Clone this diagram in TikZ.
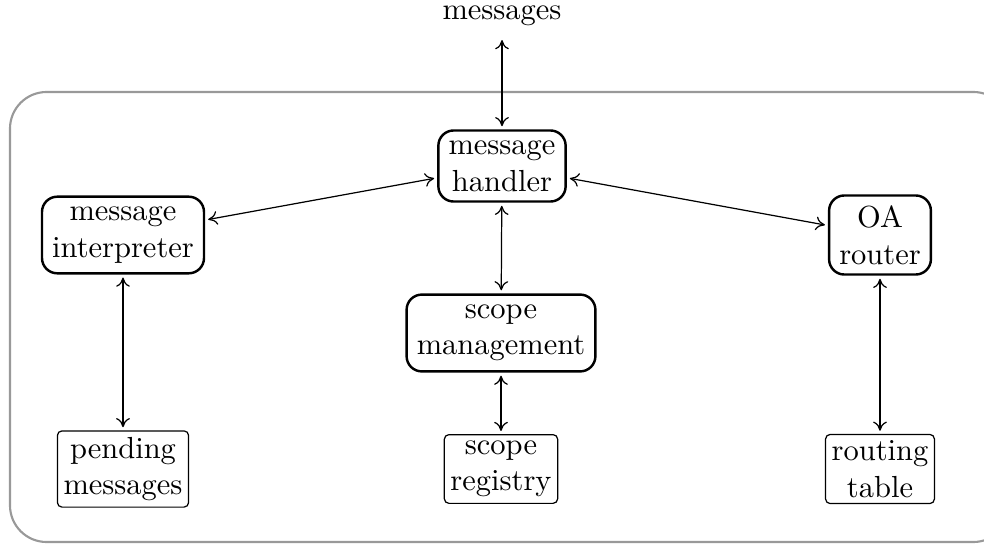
\documentclass[tikz,border=0pt]{standalone}
\usetikzlibrary{arrows.meta}
\begin{document}
\begin{tikzpicture}[x=0.328pt, y=-0.328pt,
  component/.style={draw, thick, rounded corners=5pt, align=center,
    inner sep=3.33pt},
  store/.style={draw, rounded corners=1.5pt, align=center, inner sep=2pt},
  link/.style={<->, >={To[length=3pt,width=4.5pt]}, shorten >=1pt, shorten <=1pt}]
  \useasboundingbox (0,0) rectangle (984,546);
  % enclosing system boundary
  \draw[draw=black!40, line width=0.7pt, rounded corners=12pt]
    (10,92) rectangle (1010,542);

  % external messages
  \node[anchor=base, inner sep=3.33pt] (ext) at (502,20) {messages};

  % active components
  \node[component] (handler) at (502,166) {message\\handler};
  \node[component] (interp) at (123,235) {message\\interpreter};
  \node[component] (router) at (880,235) {OA\\router};
  \node[component] (scope) at (501,333) {scope\\management};

  % data stores
  \node[store] (pending) at (123,469) {pending\\messages};
  \node[store] (registry) at (501,469) {scope\\registry};
  \node[store] (table) at (880,469) {routing\\table};

  % connections
  \draw[link] (ext) -- (handler);
  \draw[link] (handler) -- (interp);
  \draw[link] (handler) -- (router);
  \draw[link] (handler) -- (scope);
  \draw[link] (interp) -- (pending);
  \draw[link] (scope) -- (registry);
  \draw[link] (router) -- (table);
\end{tikzpicture}
\end{document}
